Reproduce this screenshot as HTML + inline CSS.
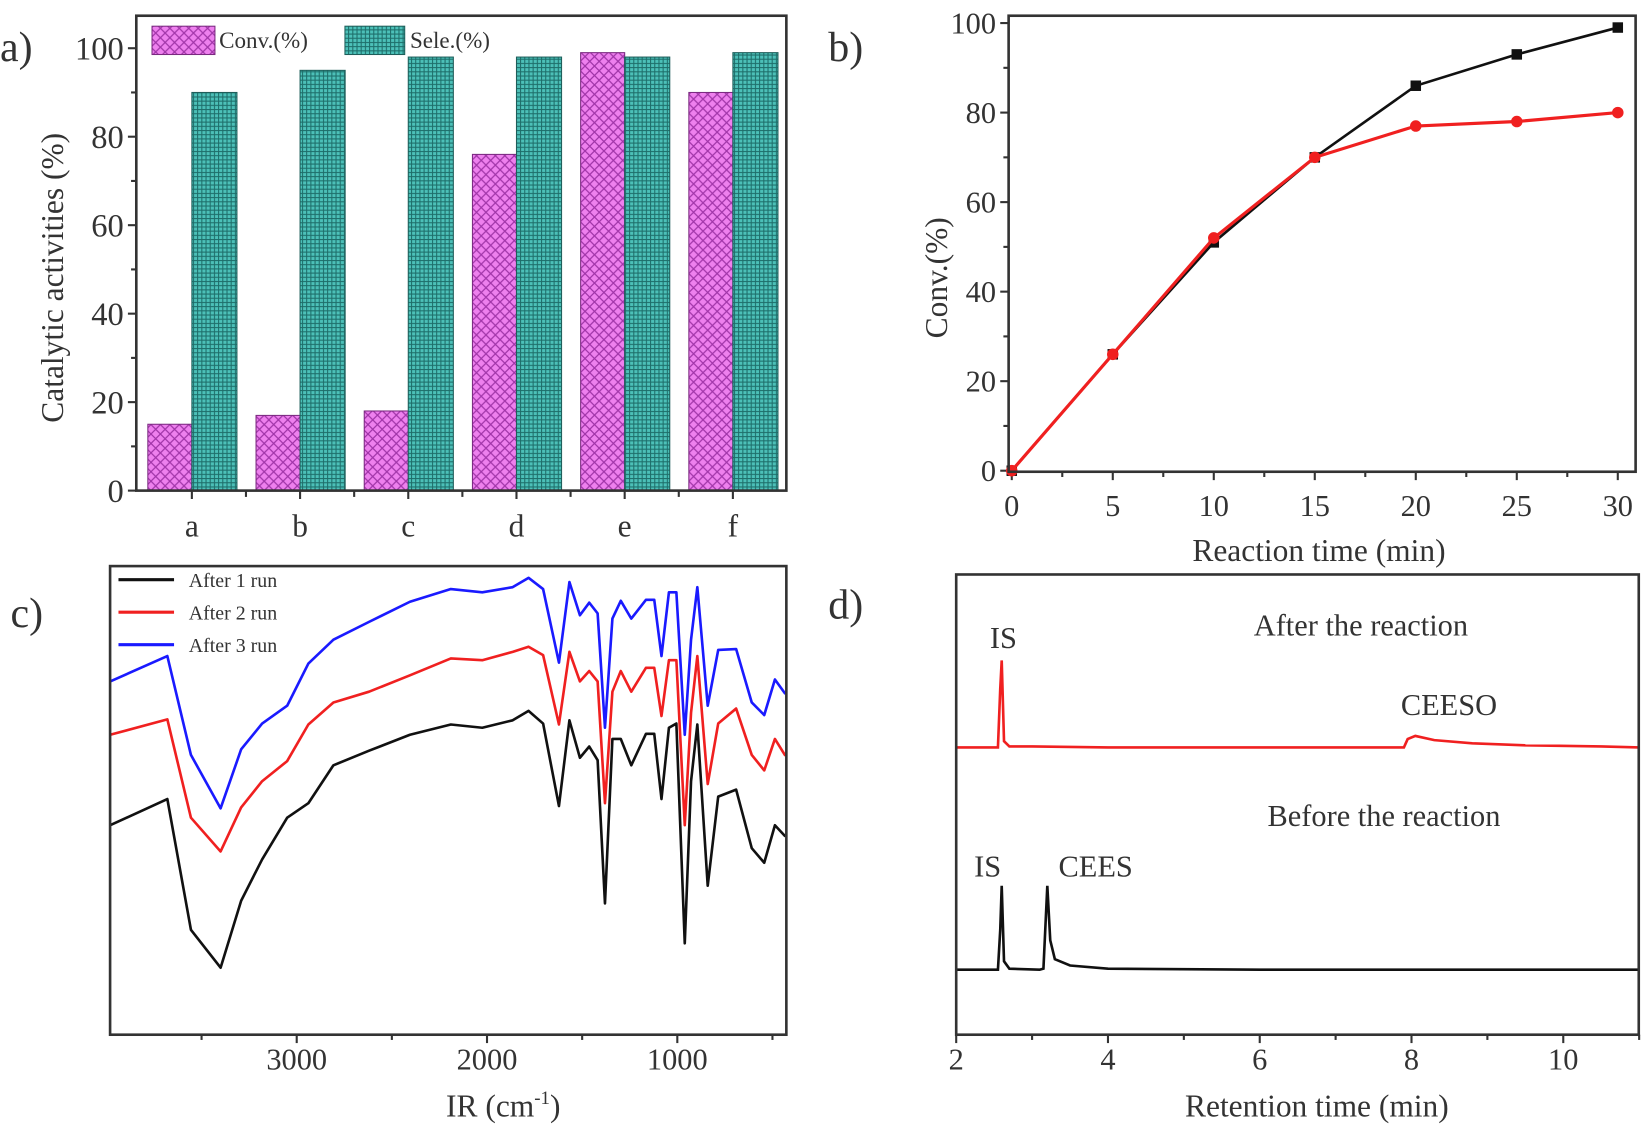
<!DOCTYPE html>
<html><head><meta charset="utf-8"><style>
html,body{margin:0;padding:0;background:#fff;}
svg{display:block;}
text{font-family:"Liberation Serif",serif;fill:#333;}
</style></head><body>
<svg id="fig" width="1644" height="1128" viewBox="0 0 1568 1076" preserveAspectRatio="none" xmlns="http://www.w3.org/2000/svg">
<defs>
<pattern id="pinkHatch" width="9" height="9" patternUnits="userSpaceOnUse">
<rect width="9" height="9" fill="#ee80ee"/>
<path d="M0,0 L9,9 M9,0 L0,9" stroke="#a035a8" stroke-width="1.2"/>
</pattern>
<pattern id="tealGrid" width="4" height="4" patternUnits="userSpaceOnUse">
<rect width="4" height="4" fill="#4cc0b8"/>
<path d="M0,0.5 H4 M0.5,0 V4" stroke="#1e6e6a" stroke-width="1"/>
</pattern>
</defs>
<g id="panelA"></g>
<g id="panelB"></g>
<g id="panelC"></g>
<g id="panelD"></g>
</svg>
<script>
// ---------- Panel a data ----------
const catA = ['a','b','c','d','e','f'];
const convA = [15, 17, 18, 76, 99, 90];
const seleA = [90, 95, 98, 98, 98, 99];
const ticksA = [0, 20, 40, 60, 80, 100];
// ---------- Panel b data ----------
const timeB = [0, 5, 10, 15, 20, 25, 30];
const blackB = [0, 26, 51, 70, 86, 93, 99];
const redB = [0, 26, 52, 70, 77, 78, 80];
const yTicksB = [0, 20, 40, 60, 80, 100];
const xTicksB = [0, 5, 10, 15, 20, 25, 30];
// ---------- Panel c data ----------
const wnC = [3980,3680,3556,3400,3292,3182,3050,2939,2807,2620,2405,2190,2025,1865,1782,1705,1622,1567,1512,1463,1419,1380,1341,1297,1242,1165,1121,1083,1044,1005,961,928,895,840,785,691,609,543,487,432];
const run1C = [44.7,50.3,22.4,14.3,28.6,37.4,46.3,49.4,57.5,60.6,64.0,66.2,65.5,67.1,69.1,66.4,48.8,67.1,59.1,61.5,58.6,28.0,63.1,63.1,57.5,64.2,64.2,50.3,65.5,66.4,19.5,54.1,66.2,31.8,50.8,52.3,39.8,36.7,44.7,42.3];
const run2C = [64.0,67.3,46.3,39.1,48.5,54.1,58.4,66.2,70.9,73.2,76.7,80.3,79.9,81.7,82.8,81.0,66.2,81.7,75.4,77.6,75.4,49.4,73.2,77.6,73.2,78.3,78.3,68.0,79.9,79.9,44.7,68.7,80.8,53.5,66.4,69.6,59.7,56.4,63.1,59.5];
const run3C = [75.4,80.8,59.7,48.3,60.9,66.4,70.2,79.2,84.3,88.1,92.4,95.1,94.4,95.5,97.5,95.1,79.4,96.6,89.5,92.2,89.9,65.5,88.8,92.6,88.8,92.8,92.8,80.8,94.4,94.4,64.0,84.3,95.5,70.2,82.1,82.3,70.9,68.2,75.8,72.7];
const xTicksC = [3000, 2000, 1000];
const legendC = ['After 1 run','After 2 run','After 3 run'];
// ---------- Panel d data ----------
const tAfter = [2,2.55,2.58,2.6,2.63,2.7,3,4,6,7.9,7.95,8.05,8.3,8.8,9.5,10.5,11];
const sAfter = [274,274,330,357,280,275,275,274,274,274,282,285,281,278,276,275,274];
const tBefore = [2,2.55,2.58,2.6,2.63,2.7,3.1,3.15,3.2,3.24,3.3,3.5,4,6,11];
const sBefore = [62,62,100,142,70,63,62,63,142,90,72,66,63,62,62];
const xTicksD = [2,4,6,8,10];

const NS='http://www.w3.org/2000/svg';
function mk(parent, tag, attrs, txt){
  const e=document.createElementNS(NS,tag);
  for(const k in attrs) e.setAttribute(k,attrs[k]);
  if(txt!==undefined) e.textContent=txt;
  parent.appendChild(e); return e;
}
function lin(d0,d1,r0,r1){return v=>r0+(v-d0)*(r1-r0)/(d1-d0);}
function pathD(xs,ys,fx,fy){return xs.map((x,i)=>(i?'L':'M')+fx(x).toFixed(1)+','+fy(ys[i]).toFixed(1)).join(' ');}

// ===== Panel A =====
(function(){
  const g=document.getElementById('panelA');
  const L=130,R=750,T=15,B=468;
  const y=lin(0,100,468,46);
  const cx=lin(0,5,183,699);
  catA.forEach((c,i)=>{
    let r=mk(g,'rect',{x:cx(i)-42,y:y(convA[i]),width:42,height:B-y(convA[i]),fill:'url(#pinkHatch)',stroke:'#7a2a80','stroke-width':1});
    
    
    let s=mk(g,'rect',{x:cx(i),y:y(seleA[i]),width:43,height:B-y(seleA[i]),fill:'url(#tealGrid)',stroke:'#1e5e5a','stroke-width':1});
    
    
    let t=mk(g,'text',{x:cx(i),y:512,'font-size':30,'text-anchor':'middle'},c);
    
    
    mk(g,'line',{x1:cx(i),x2:cx(i),y1:B,y2:B+8,stroke:'#333','stroke-width':2});
    if(i<5) mk(g,'line',{x1:cx(i)+51.6,x2:cx(i)+51.6,y1:B,y2:B+6,stroke:'#333','stroke-width':2});
  });
  ticksA.forEach(v=>{
    mk(g,'line',{x1:L-8,x2:L,y1:y(v),y2:y(v),stroke:'#333','stroke-width':2});
    if(v<100) mk(g,'line',{x1:L-5,x2:L,y1:y(v+10),y2:y(v+10),stroke:'#333','stroke-width':2});
    let t=mk(g,'text',{x:L-12,y:y(v)+11,'font-size':31,'text-anchor':'end'},v);
    
    
  });
  let f=mk(g,'rect',{x:L,y:T,width:R-L,height:B-T,fill:'none',stroke:'#333','stroke-width':2.5});
  
  
  let l1=mk(g,'rect',{x:145,y:25,width:60,height:27,fill:'url(#pinkHatch)',stroke:'#7a2a80'});
  
  
  let lt1=mk(g,'text',{x:209,y:46,'font-size':22},'Conv.(%)');
  
  
  let l2=mk(g,'rect',{x:329,y:25,width:57,height:27,fill:'url(#tealGrid)',stroke:'#1e5e5a'});
  
  
  let lt2=mk(g,'text',{x:391,y:46,'font-size':22},'Sele.(%)');
  
  
  let yl=mk(g,'text',{x:0,y:0,'font-size':30,'text-anchor':'middle',transform:'translate(60,265) rotate(-90)'},'Catalytic activities (%)');
  
  
  let pl=mk(g,'text',{x:0,y:58,'font-size':40},'a)');
  
  
})();

// ===== Panel B =====
(function(){
  const g=document.getElementById('panelB');
  const L=962,R=1560,T=15,B=450;
  const x=lin(0,30,965,1543), y=lin(0,100,449,22);
  yTicksB.forEach(v=>{
    mk(g,'line',{x1:L-8,x2:L,y1:y(v),y2:y(v),stroke:'#333','stroke-width':2});
    if(v<100) mk(g,'line',{x1:L-5,x2:L,y1:y(v+10),y2:y(v+10),stroke:'#333','stroke-width':2});
    let t=mk(g,'text',{x:L-12,y:y(v)+10,'font-size':29,'text-anchor':'end'},v);
    
    
  });
  xTicksB.forEach(v=>{
    mk(g,'line',{x1:x(v),x2:x(v),y1:B,y2:B+8,stroke:'#333','stroke-width':2});
    if(v<30) mk(g,'line',{x1:x(v+2.5),x2:x(v+2.5),y1:B,y2:B+5,stroke:'#333','stroke-width':2});
    let t=mk(g,'text',{x:x(v),y:492,'font-size':29,'text-anchor':'middle'},v);
    
    
  });
  let pb=mk(g,'path',{d:pathD(timeB,blackB,x,y),fill:'none',stroke:'#111','stroke-width':2.5});
  
  
  timeB.forEach((t,i)=>{
    let m=mk(g,'rect',{x:x(t)-5,y:y(blackB[i])-5,width:10,height:10,fill:'#111'});
    
    
  });
  let pr=mk(g,'path',{d:pathD(timeB,redB,x,y),fill:'none',stroke:'#f02020','stroke-width':3});
  
  
  timeB.forEach((t,i)=>{
    let m=mk(g,'circle',{cx:x(t),cy:y(redB[i]),r:5.5,fill:'#f02020'});
    
    
  });
  let f=mk(g,'rect',{x:L,y:T,width:R-L,height:B-T,fill:'none',stroke:'#333','stroke-width':2.5});
  
  
  let xl=mk(g,'text',{x:1258,y:535,'font-size':30,'text-anchor':'middle'},'Reaction time (min)');
  
  
  let yl=mk(g,'text',{x:0,y:0,'font-size':30,'text-anchor':'middle',transform:'translate(903,265) rotate(-90)'},'Conv.(%)');
  
  
  let pl=mk(g,'text',{x:790,y:58,'font-size':40},'b)');
  
  
})();

// ===== Panel C =====
(function(){
  const g=document.getElementById('panelC');
  const L=105,R=750,T=540,B=987;
  const x=lin(3000,2000,283,464.5), y=lin(0,100,987,540);
  [3500,3000,2500,2000,1500,1000,500].forEach(v=>{
    mk(g,'line',{x1:x(v),x2:x(v),y1:B,y2:B+(v%1000?5:8),stroke:'#333','stroke-width':2});
  });
  xTicksC.forEach(v=>{
    let t=mk(g,'text',{x:x(v),y:1020,'font-size':29,'text-anchor':'middle'},v);
    
    
  });
  const cols=['#111','#f02020','#1a1aff'];
  [run1C,run2C,run3C].forEach((arr,i)=>{
    let p=mk(g,'path',{d:pathD(wnC,arr,x,y),fill:'none',stroke:cols[i],'stroke-width':2.5,'stroke-linejoin':'round'});
    
    
  });
  legendC.forEach((s,i)=>{
    let ln=mk(g,'line',{x1:113,x2:166,y1:553+i*31,y2:553+i*31,stroke:cols[i],'stroke-width':3});
    
    
    let t=mk(g,'text',{x:180,y:560+i*31,'font-size':19},s);
    
    
  });
  let f=mk(g,'rect',{x:L,y:T,width:R-L,height:B-T,fill:'none',stroke:'#333','stroke-width':2.5});
  
  
  let xl=mk(g,'text',{x:480,y:1065,'font-size':30,'text-anchor':'middle'},'IR (cm');
  
  
  const ts=mk(xl,'tspan',{'font-size':18,dy:-12},'-1');
  const ts2=mk(xl,'tspan',{dy:12},')');
  let pl=mk(g,'text',{x:10,y:598,'font-size':40},'c)');
  
  
})();

// ===== Panel D =====
(function(){
  const g=document.getElementById('panelD');
  const L=912,R=1563,T=548,B=987;
  const x=lin(2,10,912,1491), y=lin(0,439,987,548);
  [2,3,4,5,6,7,8,9,10,11].forEach(v=>{
    mk(g,'line',{x1:x(v),x2:x(v),y1:B,y2:B+(v%2?5:8),stroke:'#333','stroke-width':2});
  });
  xTicksD.forEach(v=>{
    let t=mk(g,'text',{x:x(v),y:1020,'font-size':29,'text-anchor':'middle'},v);
    
    
  });
  let pa=mk(g,'path',{d:pathD(tAfter,sAfter,x,y),fill:'none',stroke:'#f02020','stroke-width':2.5});
  
  
  let pb=mk(g,'path',{d:pathD(tBefore,sBefore,x,y),fill:'none',stroke:'#111','stroke-width':2.5});
  
  
  const ann=[['After the reaction',1298,606,'annotation-after'],['IS',957,618,'label-is-after'],['CEESO',1382,682,'label-ceeso'],['Before the reaction',1320,788,'annotation-before'],['IS',942,836,'label-is-before'],['CEES',1045,836,'label-cees']];
  ann.forEach(a=>{
    let t=mk(g,'text',{x:a[1],y:a[2],'font-size':29,'text-anchor':'middle'},a[0]);
    
    
  });
  let f=mk(g,'rect',{x:L,y:T,width:R-L,height:B-T,fill:'none',stroke:'#333','stroke-width':2.5});
  
  
  let xl=mk(g,'text',{x:1256,y:1065,'font-size':30,'text-anchor':'middle'},'Retention time (min)');
  
  
  let pl=mk(g,'text',{x:790,y:590,'font-size':40},'d)');
  
  
})();
</script>
</body></html>
